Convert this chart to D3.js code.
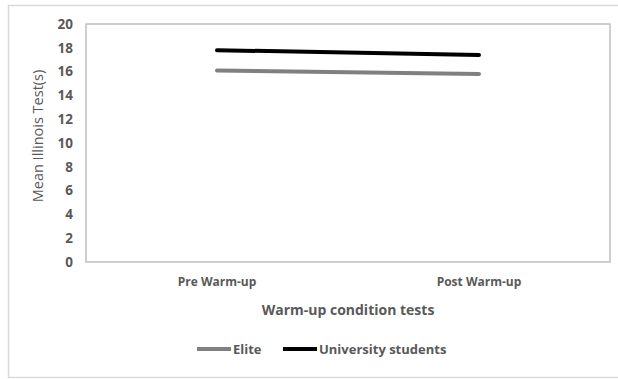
<!DOCTYPE html>
<html>
<head>
<meta charset="utf-8">
<script src="https://cdn.jsdelivr.net/npm/d3@7"></script>
<style>
  body { margin: 0; background: #fff; }
  text { font-family: "Open Sans", "Noto Sans", sans-serif; fill: #595959; }
</style>
</head>
<body>
<svg id="chart" width="618" height="379"></svg>
<script>
// chart data
var conditions = ["Pre Warm-up", "Post Warm-up"];
var seriesNames = ["Elite", "University students"];
var seriesColors = ["#808080", "#000000"];
var eliteValues = [16.1, 15.8];
var studentValues = [17.8, 17.4];
var yTicks = [0, 2, 4, 6, 8, 10, 12, 14, 16, 18, 20];

var svg = d3.select("#chart");

// outer chart frame
svg.append("rect")
    .attr("x", 8.5).attr("y", 5.5)
    .attr("width", 620).attr("height", 372)
    .style("fill", "none")
    .style("stroke", "#d9d9d9")
    .style("stroke-width", 1.5);

var plot = { left: 86, top: 24, right: 610, bottom: 262 };

var x = d3.scaleBand()
    .domain(conditions)
    .range([plot.left, plot.right]);

var y = d3.scaleLinear()
    .domain([0, 20])
    .range([plot.bottom, plot.top]);

// plot area border
svg.append("rect")
    .attr("x", plot.left).attr("y", plot.top)
    .attr("width", plot.right - plot.left)
    .attr("height", plot.bottom - plot.top)
    .style("fill", "none")
    .style("stroke", "#bfbfbf")
    .style("stroke-width", 1.5);

// y axis tick labels
var yAxis = d3.axisLeft(y).tickValues(yTicks).tickSize(0).tickPadding(0);
var gy = svg.append("g")
    .attr("transform", "translate(" + (plot.left - 13) + ",0)")
    .call(yAxis);
gy.select(".domain").remove();
gy.selectAll("text")
    .style("font-size", "13.5px")
    .style("font-weight", "bold")
    .style("fill", "#595959");

// x axis labels
var xAxis = d3.axisBottom(x).tickSize(0).tickPadding(0);
var gx = svg.append("g")
    .attr("transform", "translate(0," + (plot.bottom + 15) + ")")
    .call(xAxis);
gx.select(".domain").remove();
gx.selectAll("text")
    .style("font-size", "12px")
    .style("font-weight", "bold")
    .style("fill", "#595959");

// axis titles
svg.append("text")
    .attr("x", (plot.left + plot.right) / 2)
    .attr("y", 315)
    .attr("text-anchor", "middle")
    .style("font-size", "14px")
    .style("font-weight", "bold")
    .text("Warm-up condition tests");

svg.append("text")
    .attr("transform", "translate(43,136) rotate(-90)")
    .attr("text-anchor", "middle")
    .style("font-size", "14.5px")
    .text("Mean  Illinois Test(s)");

// series lines
var line = d3.line()
    .x(function (d, i) { return x(conditions[i]) + x.bandwidth() / 2; })
    .y(function (d) { return y(d); });

var allSeries = [eliteValues, studentValues];
allSeries.forEach(function (vals, i) {
    svg.append("path")
        .attr("d", line(vals))
        .style("fill", "none")
        .style("stroke", seriesColors[i])
        .style("stroke-width", 4)
        .style("stroke-linecap", "round");
});

// legend
var legendX = [197, 283];
var legend = svg.selectAll(".legend")
    .data(seriesNames)
    .enter()
    .append("g")
    .attr("class", "legend")
    .attr("transform", function (d, i) {
        return "translate(" + legendX[i] + ",349)";
    });

legend.append("line")
    .attr("x1", 0).attr("x2", 34)
    .attr("y1", 0).attr("y2", 0)
    .style("stroke", function (d, i) { return seriesColors[i]; })
    .style("stroke-width", 4);

legend.append("text")
    .attr("x", 36)
    .attr("y", 4.5)
    .style("font-size", "13px")
    .style("font-weight", "bold")
    .text(function (d) { return d; });
</script>
</body>
</html>
